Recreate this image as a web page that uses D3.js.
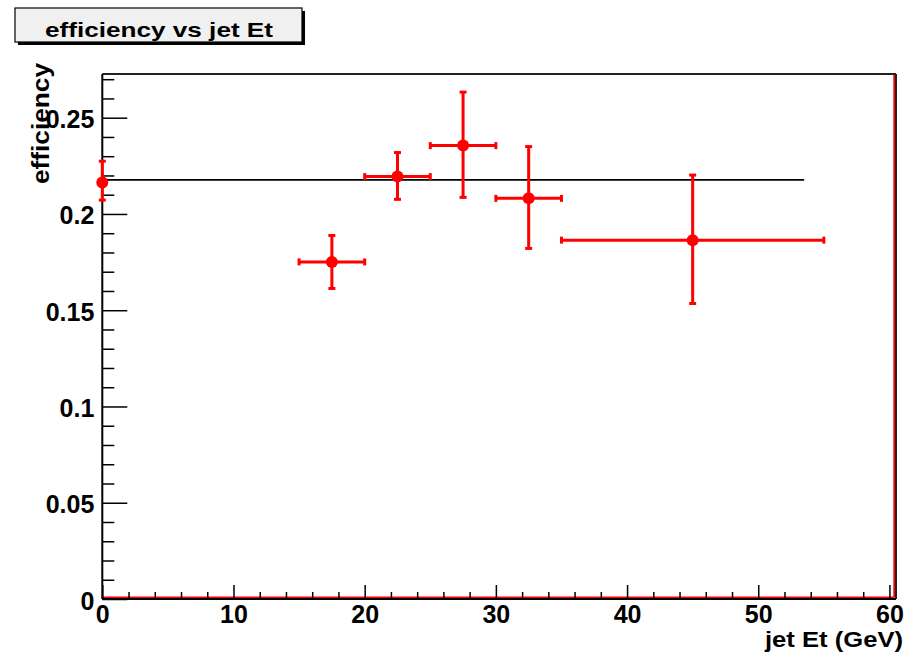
<!DOCTYPE html>
<html>
<head>
<meta charset="utf-8">
<script src="https://cdn.jsdelivr.net/npm/d3@7"></script>
<style>
  html, body { margin: 0; padding: 0; background: #ffffff; }
  svg { display: block; }
  text { font-family: "Liberation Sans", Arial, Helvetica, sans-serif; font-weight: bold; fill: #000; }
</style>
</head>
<body>
<script>
// ---- data ----
const xCenters  = [0.0, 17.5, 22.5, 27.5, 32.5, 45.0];
const xErrLow   = [0.0, 2.5, 2.5, 2.5, 2.5, 10.0];
const xErrHigh  = [0.0, 2.5, 2.5, 2.5, 2.5, 10.0];
const effValues = [0.2164, 0.1751, 0.2194, 0.2355, 0.2081, 0.1864];
const yErrLow   = [0.0092, 0.0138, 0.0118, 0.0269, 0.0260, 0.0329];
const yErrHigh  = [0.0110, 0.0137, 0.0125, 0.0278, 0.0269, 0.0338];
const fitLevel  = [0.2177];
const fitRange  = [0.0, 53.5];
const xTicks    = [0, 10, 20, 30, 40, 50, 60];
const yTicks    = [0, 0.05, 0.1, 0.15, 0.2, 0.25];
const yTickLabels = ["0", "0.05", "0.1", "0.15", "0.2", "0.25"];
const titleText = "efficiency vs jet Et";
const xTitle = "jet Et (GeV)";
const yTitle = "efficiency";

const W = 907, H = 657;
const pL = 102.3, pR = 896, pT = 74, pB = 599;

const svg = d3.select("body").append("svg").attr("width", W).attr("height", H);

const x = d3.scaleLinear().domain([0, 60.5]).range([pL, pR]);
const y = d3.scaleLinear().domain([0, 0.2727]).range([pB, pT]);

// red frame lines (histogram frame)
svg.append("line").attr("x1", pL).attr("x2", pR - 1.7).attr("y1", pB - 1.5).attr("y2", pB - 1.5)
  .attr("stroke", "#ff0000").attr("stroke-width", 2);
svg.append("line").attr("x1", pR - 1.7).attr("x2", pR - 1.7).attr("y1", pT).attr("y2", pB - 1.5)
  .attr("stroke", "#ff0000").attr("stroke-width", 2);

// frame top / right
svg.append("line").attr("x1", pL).attr("x2", pR).attr("y1", pT).attr("y2", pT)
  .attr("stroke", "#222").attr("stroke-width", 2);
svg.append("line").attr("x1", pR).attr("x2", pR).attr("y1", pT).attr("y2", pB)
  .attr("stroke", "#222").attr("stroke-width", 2);

// x axis: major ticks (inside, up) and minor ticks
const xAxis = d3.axisBottom(x).tickValues(xTicks).tickSize(-14).tickPadding(18).tickFormat(d3.format("d"));
const gx = svg.append("g").attr("transform", `translate(0,${pB})`).call(xAxis);
gx.select(".domain").attr("stroke", "#000").attr("stroke-width", 2).attr("d", `M${pL},0H${pR}`);
gx.selectAll(".tick line").attr("stroke", "#000").attr("stroke-width", 1.5);
gx.selectAll(".tick text").attr("font-size", 25).attr("font-family", "Liberation Sans").attr("font-weight", "bold").attr("fill", "#000").attr("dy", "0.25em");
const xMinor = d3.range(0, 60.01, 2).filter(v => v % 10 !== 0);
const gxm = svg.append("g").attr("transform", `translate(0,${pB})`)
  .call(d3.axisBottom(x).tickValues(xMinor).tickSize(-7).tickFormat(""));
gxm.select(".domain").remove();
gxm.selectAll(".tick line").attr("stroke", "#000").attr("stroke-width", 1.5);

// y axis
const yAxis = d3.axisLeft(y).tickValues(yTicks).tickSize(-25).tickPadding(8)
  .tickFormat((d, i) => yTickLabels[i]);
const gy = svg.append("g").attr("transform", `translate(${pL},0)`).call(yAxis);
gy.select(".domain").attr("stroke", "#000").attr("stroke-width", 2).attr("d", `M0,${pT}V${pB}`);
gy.selectAll(".tick line").attr("stroke", "#000").attr("stroke-width", 1.5);
gy.selectAll(".tick text").attr("font-size", 25).attr("font-family", "Liberation Sans").attr("font-weight", "bold").attr("fill", "#000").attr("dy", "0.4em");
const yMinor = d3.range(0, 0.2701, 0.01).filter(v => Math.abs(v / 0.05 - Math.round(v / 0.05)) > 1e-6);
const gym = svg.append("g").attr("transform", `translate(${pL},0)`)
  .call(d3.axisLeft(y).tickValues(yMinor).tickSize(-12).tickFormat(""));
gym.select(".domain").remove();
gym.selectAll(".tick line").attr("stroke", "#000").attr("stroke-width", 1.5);

// fit line
svg.append("line")
  .attr("x1", x(fitRange[0])).attr("x2", x(fitRange[1]))
  .attr("y1", y(fitLevel[0])).attr("y2", y(fitLevel[0]))
  .attr("stroke", "#000").attr("stroke-width", 1.8);

// data points with asymmetric errors
const pts = xCenters.map((xc, i) => ({
  x: xc, y: effValues[i], exl: xErrLow[i], exh: xErrHigh[i], eyl: yErrLow[i], eyh: yErrHigh[i]
}));
const red = "#ff0000";
const cap = 3.5;
const g = svg.append("g");
pts.forEach(p => {
  const cx = x(p.x), cy = y(p.y);
  g.append("line").attr("x1", cx).attr("x2", cx).attr("y1", y(p.y + p.eyh)).attr("y2", y(p.y - p.eyl))
    .attr("stroke", red).attr("stroke-width", 3);
  g.append("line").attr("x1", cx - cap).attr("x2", cx + cap).attr("y1", y(p.y + p.eyh)).attr("y2", y(p.y + p.eyh))
    .attr("stroke", red).attr("stroke-width", 3);
  g.append("line").attr("x1", cx - cap).attr("x2", cx + cap).attr("y1", y(p.y - p.eyl)).attr("y2", y(p.y - p.eyl))
    .attr("stroke", red).attr("stroke-width", 3);
  if (p.exl > 0 || p.exh > 0) {
    g.append("line").attr("x1", x(p.x - p.exl)).attr("x2", x(p.x + p.exh)).attr("y1", cy).attr("y2", cy)
      .attr("stroke", red).attr("stroke-width", 3);
    g.append("line").attr("x1", x(p.x - p.exl)).attr("x2", x(p.x - p.exl)).attr("y1", cy - cap).attr("y2", cy + cap)
      .attr("stroke", red).attr("stroke-width", 3);
    g.append("line").attr("x1", x(p.x + p.exh)).attr("x2", x(p.x + p.exh)).attr("y1", cy - cap).attr("y2", cy + cap)
      .attr("stroke", red).attr("stroke-width", 3);
  }
  g.append("circle").attr("cx", cx).attr("cy", cy).attr("r", 6).attr("fill", red);
});

// axis titles
svg.append("text").attr("x", 765).attr("y", 647).attr("font-size", 22)
  .attr("textLength", 138).attr("lengthAdjust", "spacingAndGlyphs").text(xTitle);
svg.append("text").attr("transform", "translate(49,184) rotate(-90)").attr("font-size", 24)
  .attr("textLength", 121).attr("lengthAdjust", "spacingAndGlyphs").text(yTitle);

// title box with shadow
svg.append("rect").attr("x", 18).attr("y", 11).attr("width", 287).attr("height", 34).attr("fill", "#000");
svg.append("rect").attr("x", 15).attr("y", 8).attr("width", 287).attr("height", 34)
  .attr("fill", "#f0f0f0").attr("stroke", "#000").attr("stroke-width", 1.2);
svg.append("text").attr("x", 45).attr("y", 37).attr("font-size", 21)
  .attr("textLength", 228).attr("lengthAdjust", "spacingAndGlyphs").text(titleText);
</script>
</body>
</html>
